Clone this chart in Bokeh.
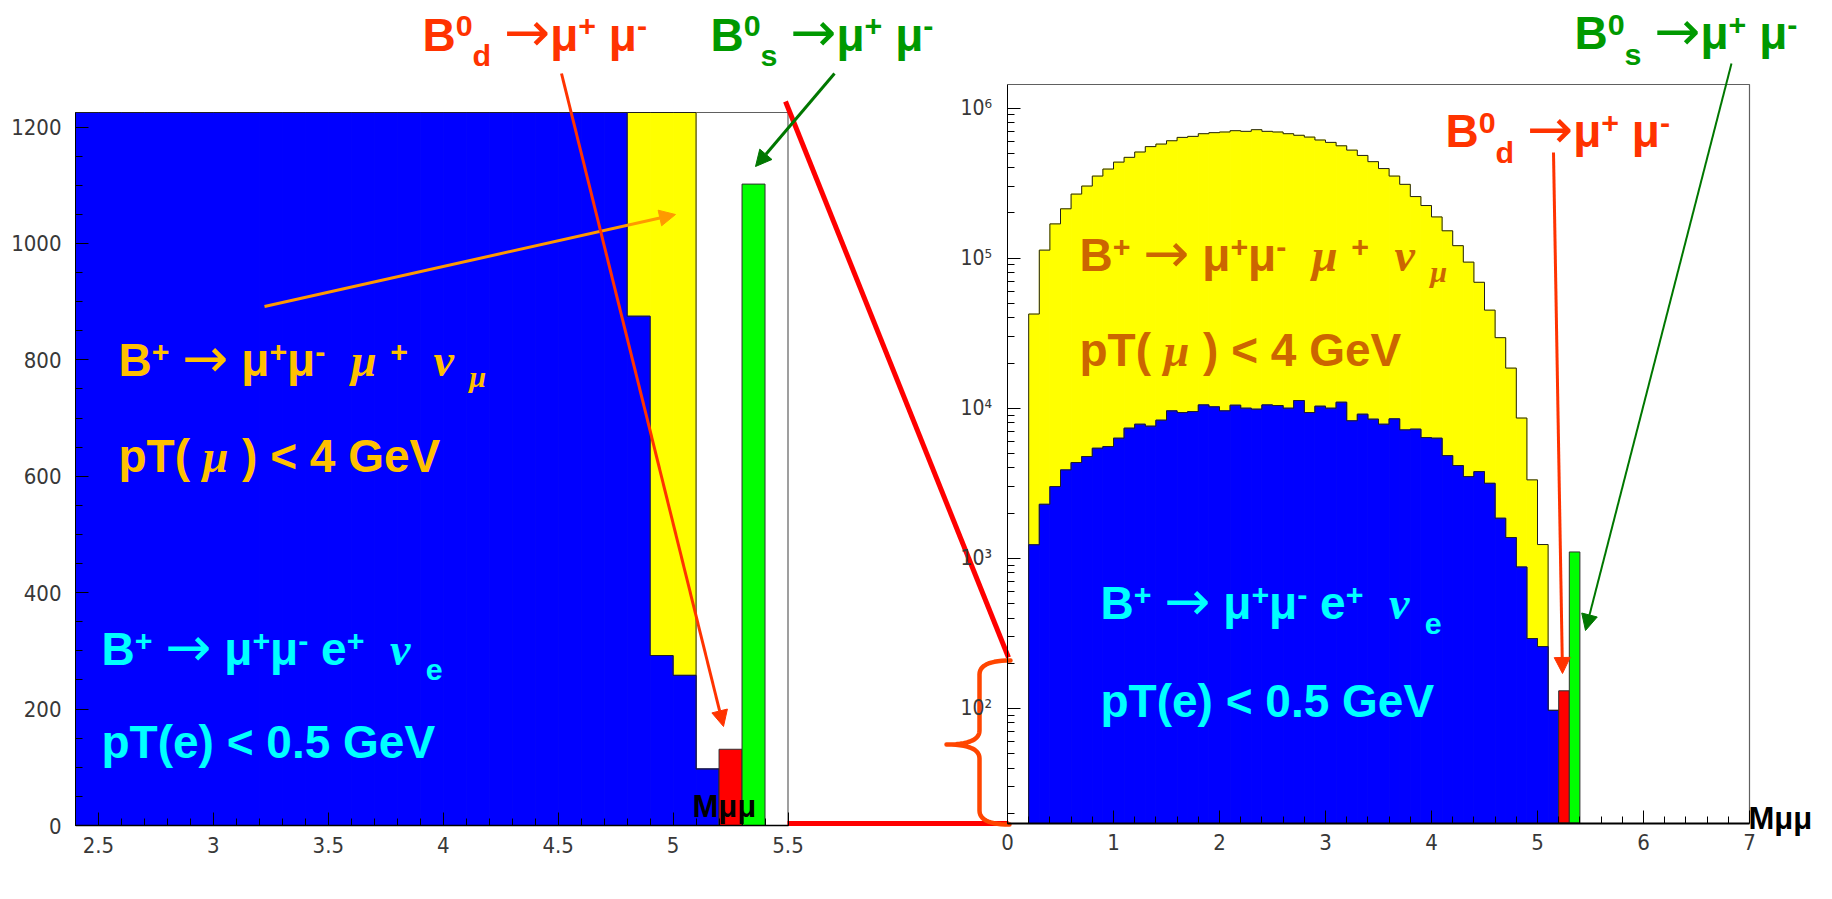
import numpy as np
from bokeh.embed import file_html
from bokeh.models import (Arrow, ColumnDataSource, FixedTicker, LinearAxis, LogAxis,
                          LogScale, NormalHead, Range1d)
from bokeh.plotting import figure
from bokeh.resources import INLINE

# ------------------------------------------------------------------ data
BIN_WIDTH = 0.1          # GeV per bin of M(mu mu)
FIRST_BIN = 0.2          # low edge of the first filled bin

# B+ -> mu+ mu- mu+ nu_mu, pT(mu) < 4 GeV  (events per bin)
mumu_mu_nu = [
    42400, 113000, 169000, 213000, 267000, 302000, 352000, 392000, 436000, 469000,
    509000, 553000, 575000, 605000, 637000, 647000, 674000, 685000, 692000, 706000,
    699000, 717000, 699000, 692000, 674000, 658000, 640000, 612000, 590000, 560000,
    524000, 483000, 439000, 395000, 352000, 310000, 257000, 224000, 188000, 152000,
    121000, 94000, 69000, 45000, 29500, 18500, 8600, 3330, 1235, 97,
]
# B+ -> mu+ mu- e+ nu_e, pT(e) < 0.5 GeV  (events per bin)
mumu_e_nu = [
    1230, 2290, 3005, 3880, 4345, 4765, 5410, 5550, 6310, 7360,
    7820, 7590, 8320, 9600, 9350, 9500, 10520, 10210, 9600, 10470,
    10000, 9850, 10520, 10420, 10000, 11250, 9350, 10310, 10000, 10960,
    8240, 9120, 8450, 7820, 8490, 7170, 7250, 6370, 6310, 4830,
    4150, 3500, 3780, 3160, 1849, 1375, 875, 292, 258, 97,
]
# signal peaks
bd_bin, bd_events = 5.2, 131
bs_bin, bs_events = 5.3, 1102

left_x_ticks = [2.5, 3.0, 3.5, 4.0, 4.5, 5.0, 5.5]
left_x_labels = ["2.5", "3", "3.5", "4", "4.5", "5", "5.5"]
left_y_ticks = [0, 200, 400, 600, 800, 1000, 1200]
left_y_labels = ["0", "200", "400", "600", "800", "1000", "1200"]
right_x_ticks = [0, 1, 2, 3, 4, 5, 6, 7]
right_x_labels = ["0", "1", "2", "3", "4", "5", "6", "7"]
right_y_ticks = [1e2, 1e3, 1e4, 1e5, 1e6]
right_y_labels = ["10\u00b2", "10\u00b3", "10\u2074", "10\u2075", "10\u2076"]

# ------------------------------------------------------------------ layout
W, H = 1832, 899
FRAME_L, FRAME_R, FRAME_T, FRAME_B = 75, 1818, 0, 899

# each panel box: data limits and the canvas pixels they sit on
LEFT_X, LEFT_X_PX = (2.4, 5.5), (75.0, 787.5)
LEFT_Y, LEFT_Y_PX = (0.0, 1225.0), (825.0, 112.0)
RIGHT_X, RIGHT_X_PX = (0.0, 7.0), (1007.0, 1749.0)
RIGHT_DEC, RIGHT_DEC_PX = (2.0, 6.0), (707.9, 107.5)   # log10(counts)
RIGHT_BOX_PY = (822.5, 84.0)                            # bottom / top of the log box


def extend(vals, px, p0, p1):
    k = (vals[1] - vals[0]) / (px[1] - px[0])
    return vals[0] + (p0 - px[0]) * k, vals[0] + (p1 - px[0]) * k


lx = extend(LEFT_X, LEFT_X_PX, FRAME_L, FRAME_R)
ly = extend(LEFT_Y, LEFT_Y_PX, FRAME_B, FRAME_T)
rx = extend(RIGHT_X, RIGHT_X_PX, FRAME_L, FRAME_R)
ry_dec = extend(RIGHT_DEC, RIGHT_DEC_PX, FRAME_B, FRAME_T)
ry = (10 ** ry_dec[0], 10 ** ry_dec[1])
box_dec = extend(RIGHT_DEC, RIGHT_DEC_PX, *RIGHT_BOX_PY)
RIGHT_Y = (10 ** box_dec[0], 10 ** box_dec[1])

p = figure(frame_width=FRAME_R - FRAME_L, frame_height=FRAME_B - FRAME_T,
           min_border_left=FRAME_L, min_border_right=W - FRAME_R,
           min_border_top=FRAME_T, min_border_bottom=H - FRAME_B,
           x_range=Range1d(*lx), y_range=Range1d(*ly),
           x_axis_type=None, y_axis_type=None,
           output_backend="svg", toolbar_location=None)
p.outline_line_color = None
p.background_fill_color = "white"
p.border_fill_color = "white"
p.extra_x_ranges = {"rx": Range1d(*rx), "px": Range1d(FRAME_L, FRAME_R)}
p.extra_y_ranges = {"ry": Range1d(*ry), "py": Range1d(FRAME_B, FRAME_T)}
p.extra_y_scales = {"ry": LogScale()}

TICK_FONT = "'Liberation Sans Narrow', 'DejaVu Sans Condensed', 'Liberation Sans'"
TICK_COLOR = "#383838"


def style_axis(ax, font_size, line_width=1.0):
    ax.axis_line_color = "black"
    ax.axis_line_width = line_width
    ax.major_tick_line_color = "black"
    ax.minor_tick_line_color = "black"
    ax.major_label_text_font = TICK_FONT
    ax.major_label_text_font_size = font_size
    ax.major_label_text_color = TICK_COLOR


# --- linear panel: y axis on the frame edge, x axis pinned at y = 0
ax = LinearAxis(ticker=FixedTicker(ticks=left_y_ticks,
                                   minor_ticks=list(np.arange(0, 1201, 50))),
                bounds=LEFT_Y,
                major_label_overrides=dict(zip(left_y_ticks, left_y_labels)),
                major_label_standoff=14)
style_axis(ax, "22px")
ax.major_tick_in, ax.major_tick_out = 13, 0
ax.minor_tick_in, ax.minor_tick_out = 7, 0
p.add_layout(ax, "left")

# horizontal axes live in the top panel and hang their labels below the line
X_LABEL_STANDOFF = -40
ax = LinearAxis(ticker=FixedTicker(ticks=left_x_ticks,
                                   minor_ticks=list(np.round(np.arange(2.4, 5.51, 0.1), 1))),
                bounds=LEFT_X, fixed_location=LEFT_Y[0],
                major_label_overrides=dict(zip(left_x_ticks, left_x_labels)),
                major_label_standoff=X_LABEL_STANDOFF)
style_axis(ax, "22px", line_width=1.5)
ax.major_tick_in, ax.major_tick_out = 0, 13
ax.minor_tick_in, ax.minor_tick_out = 0, 7
p.add_layout(ax, "above")

# --- log panel
ax = LinearAxis(x_range_name="rx", y_range_name="ry",
                ticker=FixedTicker(ticks=right_x_ticks,
                                   minor_ticks=list(np.round(np.arange(0, 7.01, 0.2), 1))),
                bounds=RIGHT_X, fixed_location=RIGHT_Y[0],
                major_label_overrides=dict(zip(right_x_ticks, right_x_labels)),
                major_label_standoff=X_LABEL_STANDOFF)
style_axis(ax, "22px", line_width=2.0)
ax.major_tick_in, ax.major_tick_out = 0, 13
ax.minor_tick_in, ax.minor_tick_out = 0, 7
p.add_layout(ax, "above")

log_minor = [m * 10.0 ** d for d in range(1, 7) for m in range(2, 10)
             if RIGHT_Y[0] <= m * 10.0 ** d <= RIGHT_Y[1]]
ax = LogAxis(x_range_name="rx", y_range_name="ry",
             ticker=FixedTicker(ticks=right_y_ticks, minor_ticks=log_minor),
             bounds=RIGHT_Y, fixed_location=RIGHT_X[0],
             major_label_overrides=dict(zip(right_y_ticks, right_y_labels)),
             major_label_standoff=-60)
style_axis(ax, "21px")
ax.major_tick_in, ax.major_tick_out = 0, 13
ax.minor_tick_in, ax.minor_tick_out = 0, 7
p.add_layout(ax, "right")

# ------------------------------------------------------------------ histograms
lo = FIRST_BIN + BIN_WIDTH * np.arange(len(mumu_e_nu))
yellow = np.asarray(mumu_mu_nu, float)
blue = np.asarray(mumu_e_nu, float)


def step_outline(edges, vals, base):
    xs, ys = [edges[0]], [base]
    for l, v in zip(edges, vals):
        xs += [l, l + BIN_WIDTH]
        ys += [v, v]
    xs.append(edges[-1] + BIN_WIDTH)
    ys.append(base)
    return xs, ys


def filled(col):
    return dict(fill_color=col, line_color=col, line_width=1)


# frame boxes (top and right edges; the other two are the axes)
p.line([LEFT_X[0], LEFT_X[1], LEFT_X[1]], [LEFT_Y[1], LEFT_Y[1], LEFT_Y[0]],
       line_color="#606060", line_width=1.2)
p.line([RIGHT_X[0], RIGHT_X[1], RIGHT_X[1]], [RIGHT_Y[1], RIGHT_Y[1], RIGHT_Y[0]],
       line_color="#606060", line_width=1.2, x_range_name="rx", y_range_name="ry")

# linear panel: only bins inside the box, tops cut at the box edge
sel = lo >= LEFT_X[0] - 1e-9
l_lo = lo[sel]
l_yel = np.minimum(yellow[sel], LEFT_Y[1])
l_blu = np.minimum(blue[sel], LEFT_Y[1])
p.quad(left=l_lo, right=l_lo + BIN_WIDTH, bottom=0, top=l_yel, **filled("#FFFF00"))
xs, ys = step_outline(l_lo, l_yel, 0)
p.line(xs, ys, line_color="#202020", line_width=1)
p.quad(left=l_lo, right=l_lo + BIN_WIDTH, bottom=0, top=l_blu, **filled("#0000FF"))
xs, ys = step_outline(l_lo, l_blu, 0)
p.line(xs, ys, line_color="#202020", line_width=1)
p.quad(left=[bd_bin], right=[bd_bin + BIN_WIDTH], bottom=0, top=[bd_events],
       fill_color="#FF0000", line_color="#303030", line_width=1)
p.quad(left=[bs_bin], right=[bs_bin + BIN_WIDTH], bottom=0, top=[bs_events],
       fill_color="#00FF00", line_color="#303030", line_width=1)

# log panel
base = RIGHT_Y[0]
RY = dict(x_range_name="rx", y_range_name="ry")
p.quad(left=lo, right=lo + BIN_WIDTH, bottom=base, top=yellow, **filled("#FFFF00"), **RY)
xs, ys = step_outline(lo, yellow, base)
p.line(xs, ys, line_color="#202020", line_width=1, **RY)
p.quad(left=lo, right=lo + BIN_WIDTH, bottom=base, top=blue, **filled("#0000FF"), **RY)
xs, ys = step_outline(lo, blue, base)
p.line(xs, ys, line_color="#202020", line_width=1, **RY)
p.quad(left=[bd_bin], right=[bd_bin + BIN_WIDTH], bottom=base, top=[bd_events],
       fill_color="#FF0000", line_color="#303030", line_width=1, **RY)
p.quad(left=[bs_bin], right=[bs_bin + BIN_WIDTH], bottom=base, top=[bs_events],
       fill_color="#00FF00", line_color="#303030", line_width=1, **RY)

# ------------------------------------------------------------------ annotations
# (canvas pixel coordinates through the "px"/"py" ranges)
OV = dict(x_range_name="px", y_range_name="py")

# zoom link: corner of the linear box to the brace on the log axis
p.line([785, 1008], [101, 657], line_color="#FF0000", line_width=5, **OV)
p.line([787, 1008], [823, 823], line_color="#FF0000", line_width=5, **OV)


def quad_bezier(p0, c, p1, n=14):
    t = np.linspace(0.0, 1.0, n)[:, None]
    return (1 - t) ** 2 * np.array(p0) + 2 * (1 - t) * t * np.array(c) + t ** 2 * np.array(p1)


brace = np.vstack([
    quad_bezier((1010, 660), (979, 660), (979, 674)),
    quad_bezier((979, 730), (979, 744), (946, 744)),
    quad_bezier((946, 744), (979, 744), (979, 758)),
    quad_bezier((979, 810), (979, 824), (1009, 824)),
])
p.line(brace[:, 0], brace[:, 1], line_color="#FF4500", line_width=4.5,
       line_join="round", line_cap="round", **OV)

arrows = [
    (264, 306, 675, 214, "#FF9900", 3.0),
    (561, 73, 723, 726, "#FF3300", 3.0),
    (834, 73, 755, 166, "#007700", 3.0),
    (1553, 152, 1562, 673, "#FF3300", 3.0),
    (1731, 63, 1585, 630, "#007700", 2.0),
]
for x0, y0, x1, y1, col, lw in arrows:
    p.add_layout(Arrow(end=NormalHead(size=16, fill_color=col, line_color=col, line_width=1),
                       x_start=x0, y_start=y0, x_end=x1, y_end=y1,
                       line_color=col, line_width=lw, **OV))

# --- rich text labels built from pieces (normal / super / sub / greek / arrow)
PIECES = {
    "n": ("Liberation Sans", "bold", 1.0, 0.0),
    "sup": ("Liberation Sans", "bold", 0.66, 0.27),
    "sub": ("Liberation Sans", "bold", 0.66, -0.36),
    "g": ("Liberation Serif", "bold italic", 1.0, 0.0),
    "gsub": ("Liberation Serif", "bold italic", 0.66, -0.28),
    "arr": ("DejaVu Sans", "normal", 1.2, 0.0),
}
# advance widths (em) of the glyphs used
ADVANCE = {
    ("Liberation Sans", "bold"): {
        " ": 0.278, "(": 0.333, ")": 0.333, "+": 0.584, "-": 0.333, ".": 0.278,
        "<": 0.584, "B": 0.722, "G": 0.778, "M": 0.833, "T": 0.611, "V": 0.667,
        "d": 0.611, "e": 0.556, "p": 0.611, "s": 0.556, "\u03bc": 0.611,
        **{str(i): 0.556 for i in range(10)},
    },
    ("Liberation Serif", "bold italic"): {" ": 0.25, "\u03bc": 0.576, "\u03bd": 0.5},
    ("DejaVu Sans", "normal"): {" ": 0.318, "\u2192": 0.838},
}
SPACE = ADVANCE[("Liberation Sans", "bold")][" "]
# the text glyph sits its alphabetic baseline a little below the anchor;
# lift each piece by this fraction of its own size
BASELINE_LIFT = 0.27


def advance(text, family, style, size):
    table = ADVANCE[(family, style)]
    return sum(table.get(ch, 0.556) for ch in text) * size


rows = {k: [] for k in ("x", "y", "text", "size", "font", "style", "color")}


def rich_label(x0, baseline, size, color, parts):
    x = x0
    for text, kind in parts:
        family, style, scale, shift = PIECES[kind]
        fs = size * scale
        core = text.strip(" ")
        x += (len(text) - len(text.lstrip(" "))) * SPACE * size
        if core:
            rows["x"].append(x)
            rows["y"].append(baseline - shift * size - BASELINE_LIFT * fs)
            rows["text"].append(core)
            rows["size"].append(f"{fs:.1f}px")
            rows["font"].append(family)
            rows["style"].append(style)
            rows["color"].append(color)
            x += advance(core, family, style, fs)
            x += (len(text) - len(text.rstrip(" "))) * SPACE * size


MU, NU, ARROW = "\u03bc", "\u03bd", "\u2192"
bd_parts = [("B", "n"), ("0", "sup"), ("d ", "sub"), (ARROW, "arr"), (MU, "n"),
            ("+ ", "sup"), (MU, "n"), ("-", "sup")]
bs_parts = [("B", "n"), ("0", "sup"), ("s ", "sub"), (ARROW, "arr"), (MU, "n"),
            ("+ ", "sup"), (MU, "n"), ("-", "sup")]
mu_parts = [("B", "n"), ("+ ", "sup"), (ARROW, "arr"), (" " + MU, "n"), ("+", "sup"),
            (MU, "n"), ("-  ", "sup"), (MU, "g"), (" ", "n"), ("+  ", "sup"),
            (NU, "g"), (" ", "n"), (MU, "gsub")]
mu_cut = [("pT( ", "n"), (MU, "g"), (" ) < 4 GeV", "n")]
e_parts = [("B", "n"), ("+ ", "sup"), (ARROW, "arr"), (" " + MU, "n"), ("+", "sup"),
           (MU, "n"), ("- ", "sup"), ("e", "n"), ("+  ", "sup"),
           (NU, "g"), (" ", "n"), ("e", "sub")]
e_cut = [("pT(e) < 0.5 GeV", "n")]

rich_label(422, 46.5, 46, "#FF3300", bd_parts)
rich_label(710, 46.5, 46, "#009900", bs_parts)
rich_label(1445, 143, 46, "#FF3300", bd_parts)
rich_label(1574, 45, 46, "#009900", bs_parts)

rich_label(118, 372, 46, "#FFC000", mu_parts)
rich_label(118, 468, 46, "#FFC000", mu_cut)
rich_label(101, 661, 46, "#00FFFF", e_parts)
rich_label(101, 754, 46, "#00FFFF", e_cut)

rich_label(1079, 267, 46, "#CC6600", mu_parts)
rich_label(1079, 362, 46, "#CC6600", mu_cut)
rich_label(1100, 615, 46, "#00FFFF", e_parts)
rich_label(1100, 713, 46, "#00FFFF", e_cut)

rich_label(692, 814, 31, "#000000", [("M" + MU + MU, "n")])
rich_label(1748, 826, 31, "#000000", [("M" + MU + MU, "n")])

p.text(x="x", y="y", text="text", source=ColumnDataSource(rows),
       text_font="font", text_font_size="size", text_font_style="style",
       text_color="color", text_align="left", text_baseline="alphabetic", **OV)

open("out.html", "w").write(file_html(p, INLINE))
